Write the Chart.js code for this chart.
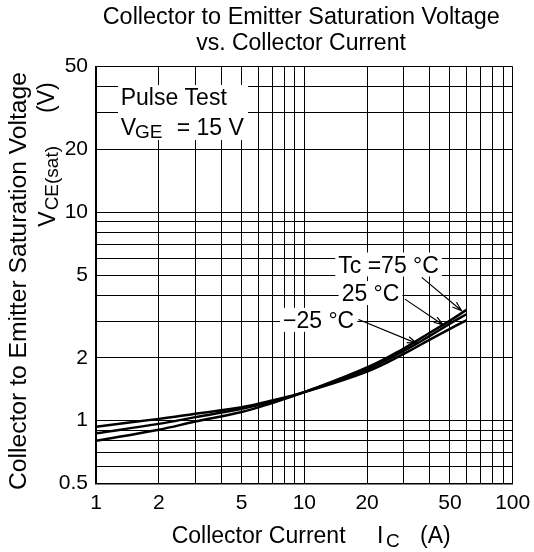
<!DOCTYPE html>
<html>
<head>
<meta charset="utf-8">
<script src="https://cdn.jsdelivr.net/npm/chart.js@4/dist/chart.umd.min.js"></script>
<style>
html,body{margin:0;padding:0;background:#fff}
</style>
</head>
<body>
<canvas id="chart" width="534" height="552"></canvas>
<script>
// collector current (A) and VCE(sat) (V)
const current = [1, 2, 3, 5, 7, 10, 20, 30, 40, 50, 60];
const vceMinus25 = [0.935, 1.02, 1.08, 1.16, 1.25, 1.37, 1.72, 2.09, 2.45, 2.76, 3.03];
const vce25 = [0.87, 0.965, 1.04, 1.14, 1.235, 1.37, 1.76, 2.16, 2.55, 2.92, 3.24];
const vce75 = [0.80, 0.905, 0.99, 1.10, 1.215, 1.37, 1.80, 2.22, 2.64, 3.02, 3.40];

const xGrid = [1,2,3,4,5,6,7,8,9,10,20,30,40,50,60,70,80,90,100];
const yGrid = [0.5,0.6,0.7,0.8,0.9,1,2,3,4,5,6,7,8,9,10,20,30,40,50];
const xLabels = [1,2,5,10,20,50,100];
const yLabels = [0.5,1,2,5,10,20,50];

// curve labels: text, text anchor, arrow start, arrow tip (data units)
const tempLabels = ['Tc =75 °C', '25 °C', '\u221225 °C'];
const labelAt = [[14.55, 5.14], [15.1, 3.75], [7.9, 2.79]];
const arrowFrom = [[36.6, 4.87], [30.4, 3.83], [18.2, 3.06]];
const arrowTo = [[56.9, 3.37], [46.4, 2.88], [34.6, 2.35]];

const FONT = "'Liberation Sans', Arial, sans-serif";

function arrow(ctx, x1, y1, x2, y2){
  const a = Math.atan2(y2 - y1, x2 - x1), h = 10, s = 0.32;
  ctx.beginPath();
  ctx.moveTo(x1, y1); ctx.lineTo(x2, y2);
  ctx.moveTo(x2 - h*Math.cos(a - s), y2 - h*Math.sin(a - s));
  ctx.lineTo(x2, y2);
  ctx.lineTo(x2 - h*Math.cos(a + s), y2 - h*Math.sin(a + s));
  ctx.stroke();
}

// draw text stretched to a given length
function fitText(ctx, txt, x, y, len){
  const w = ctx.measureText(txt).width;
  ctx.save();
  ctx.translate(x, y);
  ctx.scale(len / w, 1);
  ctx.fillText(txt, 0, 0);
  ctx.restore();
}

const texts = {
  id: 'texts',
  afterDraw(chart){
    const ctx = chart.ctx, xs = chart.scales.x, ys = chart.scales.y;
    ctx.save();
    ctx.fillStyle = '#000';
    ctx.strokeStyle = '#000';
    ctx.textBaseline = 'alphabetic';
    ctx.textAlign = 'left';

    // title
    ctx.font = '23px ' + FONT;
    fitText(ctx, 'Collector to Emitter Saturation Voltage', 102.7, 23.5, 397);
    ctx.textAlign = 'center';
    ctx.fillText('vs. Collector Current', 301, 49.5);
    ctx.textAlign = 'left';

    // pulse test box
    ctx.fillStyle = '#fff';
    ctx.fillRect(118, 85, 130, 55);
    ctx.fillStyle = '#000';
    ctx.fillText('Pulse Test', 120.7, 104.8);
    ctx.fillText('V', 120.7, 135);
    ctx.font = '19px ' + FONT;
    ctx.fillText('GE', 135, 138);
    ctx.font = '23px ' + FONT;
    ctx.fillText('= 15 V', 176.7, 135);

    // temperature labels with arrows
    ctx.lineWidth = 1.2;
    tempLabels.forEach((t, i) => {
      const x = xs.getPixelForValue(labelAt[i][0]);
      const y = ys.getPixelForValue(labelAt[i][1]);
      const w = ctx.measureText(t).width;
      ctx.fillStyle = '#fff';
      ctx.fillRect(x - 3, y - 20, w + 6, 24);
      ctx.fillStyle = '#000';
      ctx.fillText(t, x, y);
    });
    tempLabels.forEach((t, i) => {
      arrow(ctx,
        xs.getPixelForValue(arrowFrom[i][0]), ys.getPixelForValue(arrowFrom[i][1]),
        xs.getPixelForValue(arrowTo[i][0]), ys.getPixelForValue(arrowTo[i][1]));
    });

    // x axis title
    ctx.font = '23px ' + FONT;
    ctx.fillText('Collector Current', 171.7, 543.3);
    ctx.fillText('I', 377, 543.3);
    ctx.font = '19px ' + FONT;
    ctx.fillText('C', 386, 547);
    ctx.font = '23px ' + FONT;
    ctx.fillText('(A)', 420, 543.3);

    // y axis title
    ctx.save();
    ctx.translate(26, 490);
    ctx.rotate(-Math.PI / 2);
    fitText(ctx, 'Collector to Emitter Saturation Voltage', 0, 0, 418);
    ctx.restore();

    ctx.save();
    ctx.translate(55, 226.7);
    ctx.rotate(-Math.PI / 2);
    ctx.font = '23px ' + FONT;
    ctx.fillText('V', 0, 0);
    const vw = ctx.measureText('V').width;
    ctx.font = '19px ' + FONT;
    ctx.fillText('CE(sat)', vw + 1, 2.5);
    ctx.restore();

    ctx.save();
    ctx.translate(54, 113);
    ctx.rotate(-Math.PI / 2);
    ctx.font = '23px ' + FONT;
    ctx.fillText('(V)', 0, 0);
    ctx.restore();

    ctx.restore();
  }
};

const curve = (vals) => ({
  data: current.map((x, i) => ({x: x, y: vals[i]})),
  borderColor: '#000',
  borderWidth: 2.5,
  pointRadius: 0,
  fill: false,
  tension: 0.4
});

new Chart(document.getElementById('chart'), {
  type: 'line',
  data: {
    datasets: [curve(vceMinus25), curve(vce25), curve(vce75)]
  },
  options: {
    responsive: false,
    animation: false,
    layout: {padding: {left: 0, top: 66.6, right: 21.3, bottom: 0}},
    plugins: {legend: {display: false}, title: {display: false}, tooltip: {enabled: false}},
    scales: {
      x: {
        type: 'logarithmic',
        min: 1, max: 100,
        afterBuildTicks: (s) => { s.ticks = xGrid.map(v => ({value: v})); },
        afterFit: (s) => { s.height = 68.6; s.paddingLeft = 0; s.paddingRight = 0; },
        grid: {color: '#000', lineWidth: 1, drawTicks: false},
        border: {color: '#000', width: 1.5},
        ticks: {
          autoSkip: false, maxRotation: 0, padding: 7, color: '#000',
          font: {family: FONT, size: 21},
          callback: (v) => xLabels.includes(v) ? String(v) : ''
        }
      },
      y: {
        type: 'logarithmic',
        min: 0.5, max: 50,
        afterBuildTicks: (s) => { s.ticks = yGrid.map(v => ({value: v})); },
        afterFit: (s) => { s.width = 96; s.paddingTop = 0; s.paddingBottom = 0; },
        grid: {color: '#000', lineWidth: 1, drawTicks: false},
        border: {color: '#000', width: 1.5},
        ticks: {
          autoSkip: false, padding: 8, color: '#000',
          font: {family: FONT, size: 21},
          callback: (v) => yLabels.includes(v) ? String(v) : ''
        }
      }
    }
  },
  plugins: [texts]
});
</script>
</body>
</html>
